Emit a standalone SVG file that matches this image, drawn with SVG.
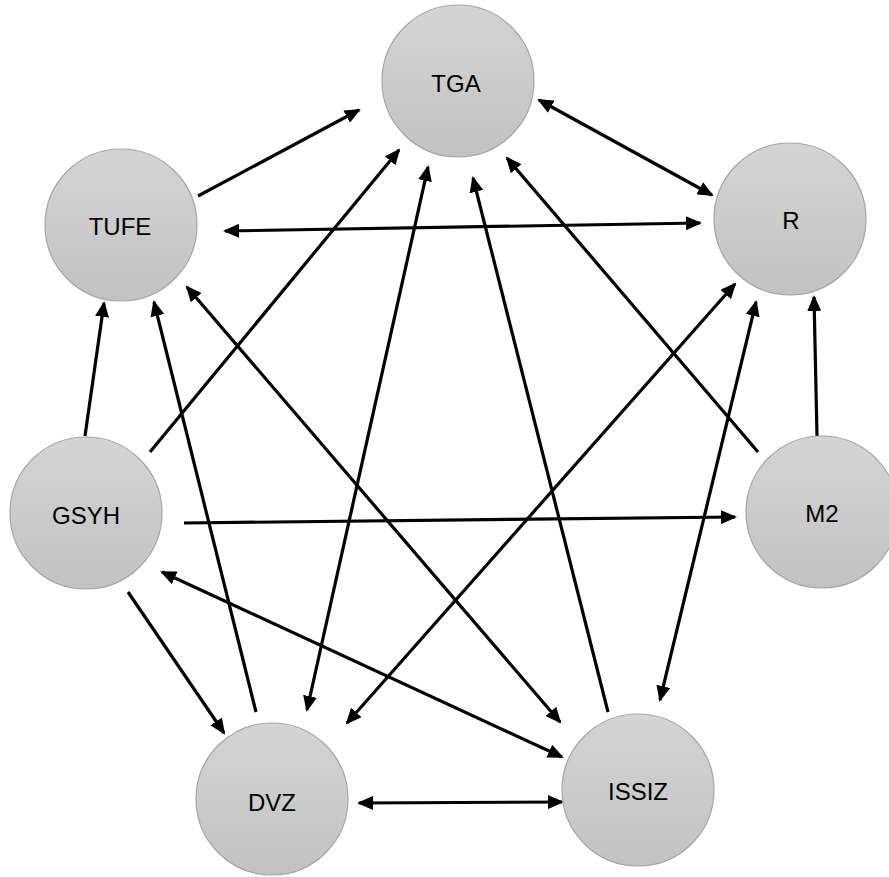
<svg xmlns="http://www.w3.org/2000/svg" width="889" height="877" viewBox="0 0 889 877">
<defs>
<linearGradient id="g" x1="0" y1="0" x2="0" y2="1">
<stop offset="0" stop-color="#d4d4d4"/>
<stop offset="1" stop-color="#c2c2c2"/>
</linearGradient>
<marker id="ah" viewBox="0 0 16 14" refX="14" refY="7" markerWidth="16" markerHeight="14" markerUnits="userSpaceOnUse" orient="auto-start-reverse">
<path d="M0,0 L16,7 L0,14 z" fill="#000"/>
</marker>
<style>
.n circle{fill:url(#g);stroke:#a6a6a6;stroke-width:1.2}
.n text{font-family:"Liberation Sans",Arial,sans-serif;font-size:24px;fill:#000;text-anchor:middle}
.e line{stroke:#000;stroke-width:3.2;fill:none}
.s{marker-end:url(#ah)}
.d{marker-start:url(#ah);marker-end:url(#ah)}
</style>
</defs>
<rect width="889" height="877" fill="#fff"/>
<g id="connectors" class="e">
<line class="s" x1="198" y1="196" x2="359" y2="110"/>
<line class="d" x1="539" y1="100" x2="712" y2="195"/>
<line class="d" x1="225" y1="231" x2="700" y2="223"/>
<line class="s" x1="150" y1="452" x2="399" y2="150"/>
<line class="d" x1="428" y1="167" x2="307" y2="710"/>
<line class="s" x1="608" y1="712" x2="473" y2="178"/>
<line class="s" x1="758" y1="452" x2="507" y2="158"/>
<line class="s" x1="85" y1="436" x2="104" y2="303"/>
<line class="s" x1="256" y1="712" x2="154" y2="302"/>
<line class="d" x1="187" y1="287" x2="560" y2="722"/>
<line class="d" x1="162" y1="572" x2="562" y2="757"/>
<line class="s" x1="128" y1="592" x2="224" y2="733"/>
<line class="s" x1="184" y1="523" x2="735" y2="517"/>
<line class="d" x1="735" y1="284" x2="347" y2="723"/>
<line class="s" x1="817" y1="436" x2="814" y2="297"/>
<line class="d" x1="756" y1="302" x2="660" y2="700"/>
<line class="d" x1="359" y1="803" x2="562" y2="802"/>
</g>
<g id="TGA" class="n"><circle cx="458" cy="81" r="76"/><text x="456" y="92">TGA</text></g>
<g id="TUFE" class="n"><circle cx="121" cy="225" r="76"/><text x="120" y="235">TUFE</text></g>
<g id="R" class="n"><circle cx="790" cy="219" r="76"/><text x="791" y="229">R</text></g>
<g id="GSYH" class="n"><circle cx="86" cy="513" r="76"/><text x="86" y="524">GSYH</text></g>
<g id="M2" class="n"><circle cx="822" cy="512" r="76"/><text x="822" y="522">M2</text></g>
<g id="DVZ" class="n"><circle cx="272" cy="799" r="76"/><text x="272" y="811">DVZ</text></g>
<g id="ISSIZ" class="n"><circle cx="638" cy="790" r="76"/><text x="638" y="800">ISSIZ</text></g>
</svg>
